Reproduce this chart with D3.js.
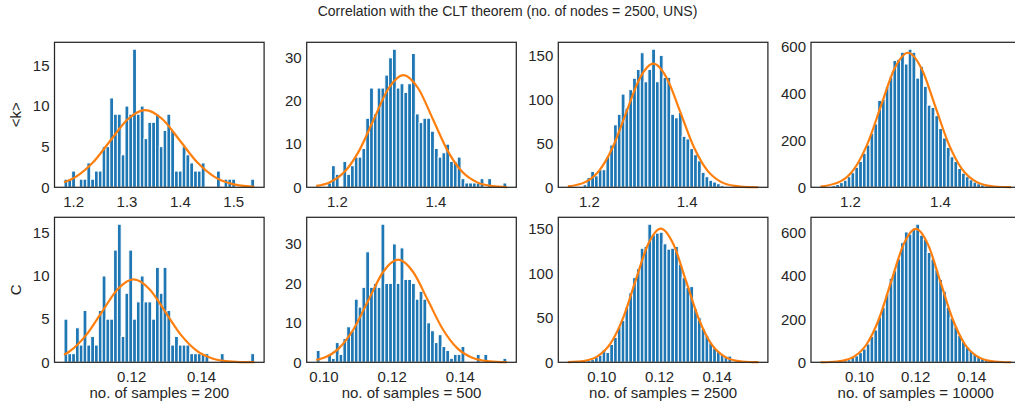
<!DOCTYPE html>
<html lang="en">
<head>
<meta charset="UTF-8">
<title>CLT histograms</title>
<script src="https://d3js.org/d3.v7.min.js"></script>
<style>
  body { margin: 0; background: #fff; }
  svg { display: block; }
  text { font-family: "Liberation Sans", Arial, sans-serif; fill: #262626; }
  .tick text { font-family: "Liberation Sans", Arial, sans-serif; font-size: 15px; fill: #262626; }
  .bar { fill: #1f77b4; stroke: #fff; stroke-width: 1; }
  .fit { fill: none; stroke: #ff7f0e; stroke-width: 2.2; }
  .frame { fill: none; stroke: #262626; stroke-width: 1.25; }
  .label { font-size: 15px; }
  .title { font-size: 14px; }
</style>
</head>
<body>
<svg width="1015" height="413"></svg>
<script>
const titleText = "Correlation with the CLT theorem (no. of nodes = 2500, UNS)";
const sampleSizes = [200, 500, 2500, 10000];
const rowLabels = ["<k>", "C"];

// histogram counts, 50 bins each
const kCounts200 = [1,1,2,0,1,1,3,1,2,2, 5,5,11,9,9,4,10,9,17,9, 10,6,8,8,9,5,7,9,7,2, 2,5,4,3,2,2,3,0,0,0, 2,0,1,1,1,0,0,0,0,1];
const kCounts500 = [0,0,0,1,5,3,0,6,3,5, 7,7,9,16,23,17,23,23,26,30, 32,23,24,22,24,31,17,15,16,16, 13,9,7,8,10,6,6,7,2,1, 1,1,1,2,0,2,0,0,0,1];
const kCounts2500 = [0,0,1,1,3,11,18,13,20,20, 35,48,71,83,106,90,111,124,134,153, 120,134,157,120,150,125,125,83,79,85, 58,55,44,37,30,17,12,8,6,4, 2,1,1,1,0,0,0,0,0,0];
const kCounts10000 = [1,2,4,7,12,20,30,45,62,85, 110,145,180,230,270,370,375,430,470,540, 545,575,525,588,575,465,515,430,350,340, 305,250,210,170,130,110,80,60,45,32, 22,15,10,6,4,2,1,1,0,0];
const cCounts200 = [5,1,1,4,2,6,2,3,2,6, 10,5,5,13,16,3,8,13,5,7, 10,7,7,5,11,8,11,6,2,3, 2,2,2,1,1,1,1,1,0,0, 0,1,0,0,0,0,0,0,0,1];
const cCounts500 = [3,0,0,2,1,5,2,6,9,8, 16,14,19,28,19,20,19,35,20,20, 30,20,29,21,21,20,16,18,16,10, 8,5,7,4,3,1,2,2,4,0, 0,0,2,0,2,0,0,0,0,1];
const cCounts2500 = [0,0,0,0,1,2,3,6,8,14, 11,20,28,40,47,62,78,95,105,128, 130,155,143,145,146,133,127,128,130,110, 95,84,85,60,50,38,30,22,16,12, 9,6,7,1,0,0,0,0,0,0];
const cCounts10000 = [0,0,0,1,2,4,8,12,22,30, 45,62,85,120,150,210,255,320,390,425, 480,555,605,595,620,641,590,570,510,480, 430,385,330,255,205,165,125,95,70,52, 38,27,18,12,7,4,2,1,0,0];

// first and last bin edge of each histogram
const kRanges = [[1.183, 1.540], [1.158, 1.545], [1.157, 1.547], [1.1345, 1.558]];
const cRanges = [[0.1008, 0.1553], [0.09788, 0.15376], [0.08838, 0.15445], [0.08626, 0.15417]];

// fitted normal curves
const kCurveX200 = [1.183, 1.205, 1.2375, 1.270, 1.3025, 1.335, 1.3675, 1.400, 1.4325, 1.465, 1.4975, 1.530, 1.540];
const kCurveY200 = [0.61, 1.29, 3.08, 5.76, 8.38, 9.5, 8.38, 5.76, 3.08, 1.29, 0.42, 0.11, 0.07];
const kCurveX500 = [1.158, 1.185, 1.215, 1.245, 1.275, 1.305, 1.335, 1.365, 1.395, 1.425, 1.455, 1.485, 1.515, 1.545];
const kCurveY500 = [0.34, 1.14, 3.52, 8.44, 15.77, 22.95, 26, 22.95, 15.77, 8.44, 3.52, 1.14, 0.29, 0.06];
const kCurveX2500 = [1.157, 1.1935, 1.2212, 1.2489, 1.2766, 1.3043, 1.332, 1.3597, 1.3874, 1.4151, 1.4428, 1.4705, 1.4982, 1.5259, 1.547];
const kCurveY2500 = [0.96, 6.17, 19.0, 45.6, 85.2, 124.0, 140.5, 124.0, 85.2, 45.6, 19.0, 6.17, 1.56, 0.31, 0.08];
const kCurveX10000 = [1.1345, 1.179, 1.209, 1.239, 1.269, 1.299, 1.329, 1.359, 1.389, 1.419, 1.449, 1.479, 1.509, 1.539, 1.558];
const kCurveY10000 = [3.0, 25.2, 77.5, 186.1, 347.5, 505.7, 573, 505.7, 347.5, 186.1, 77.5, 25.2, 6.4, 1.26, 0.39];
const cCurveX200 = [0.1008, 0.1025, 0.10705, 0.1116, 0.11615, 0.1207, 0.12525, 0.1298, 0.13435, 0.1389, 0.14345, 0.148, 0.15255, 0.1553];
const cCurveY200 = [0.87, 1.30, 3.12, 5.82, 8.47, 9.6, 8.47, 5.82, 3.12, 1.30, 0.42, 0.11, 0.02, 0.01];
const cCurveX500 = [0.09788, 0.10015, 0.1045, 0.10885, 0.1132, 0.11755, 0.1219, 0.12625, 0.1306, 0.13495, 0.1393, 0.14365, 0.148, 0.15235, 0.15376];
const cCurveY500 = [0.58, 1.14, 3.52, 8.44, 15.77, 22.95, 26, 22.95, 15.77, 8.44, 3.52, 1.14, 0.29, 0.06, 0.03];
const cCurveX2500 = [0.08838, 0.09423, 0.09863, 0.10302, 0.10742, 0.11181, 0.11621, 0.1206, 0.125, 0.12939, 0.13379, 0.13818, 0.14258, 0.14697, 0.15137, 0.15445];
const cCurveY2500 = [0.18, 1.67, 6.59, 20.3, 48.7, 91.0, 132.4, 150, 132.4, 91.0, 48.7, 20.3, 6.59, 1.67, 0.33, 0.09];
const cCurveX10000 = [0.08626, 0.08958, 0.09395, 0.09833, 0.1027, 0.10708, 0.11145, 0.11583, 0.1202, 0.12458, 0.12895, 0.13333, 0.1377, 0.14208, 0.14645, 0.15083, 0.15417];
const cCurveY10000 = [0.33, 1.36, 6.87, 27.2, 83.8, 201, 375.4, 546.3, 619, 546.3, 375.4, 201, 83.8, 27.2, 6.87, 1.36, 0.33];

// tick values
const kXTicks = [[1.2, 1.3, 1.4, 1.5], [1.2, 1.4], [1.2, 1.4], [1.2, 1.4]];
const cXTicks = [[0.12, 0.14], [0.10, 0.12, 0.14], [0.10, 0.12, 0.14], [0.10, 0.12, 0.14]];
const yTicksBySize = [[0, 5, 10, 15], [0, 10, 20, 30], [0, 50, 100, 150], [0, 200, 400, 600]];

// one row per quantity
const rows = [
  { counts: [kCounts200, kCounts500, kCounts2500, kCounts10000], ranges: kRanges,
    curveX: [kCurveX200, kCurveX500, kCurveX2500, kCurveX10000],
    curveY: [kCurveY200, kCurveY500, kCurveY2500, kCurveY10000],
    xTicks: kXTicks, fmt: ".1f" },
  { counts: [cCounts200, cCounts500, cCounts2500, cCounts10000], ranges: cRanges,
    curveX: [cCurveX200, cCurveX500, cCurveX2500, cCurveX10000],
    curveY: [cCurveY200, cCurveY500, cCurveY2500, cCurveY10000],
    xTicks: cXTicks, fmt: ".2f" }
];

const svg = d3.select("svg");
const colLeft = [54.5, 306.7, 558.3, 811],
      panelW = 209.6,
      rowTop = [42.3, 217.3],
      panelH = 145;

svg.append("text")
   .attr("class", "title")
   .attr("x", 507.5)
   .attr("y", 16)
   .attr("text-anchor", "middle")
   .text(titleText);

rows.forEach((row, r) => {
  sampleSizes.forEach((n, c) => {
    const counts = row.counts[c],
          [lo, hi] = row.ranges[c],
          pad = (hi - lo) * 0.05;

    const x = d3.scaleLinear().domain([lo - pad, hi + pad]).range([0, panelW]);
    const y = d3.scaleLinear().domain([0, d3.max(counts) * 1.05]).range([panelH, 0]);
    // bin index -> bin edge value
    const edge = d3.scaleLinear().domain([0, counts.length]).range([lo, hi]);

    const g = svg.append("g").attr("transform", `translate(${colLeft[c]},${rowTop[r]})`);

    g.selectAll("rect.bar")
     .data(counts)
     .join("rect")
     .attr("class", "bar")
     .attr("x", (d, i) => x(edge(i)))
     .attr("width", (d, i) => x(edge(i + 1)) - x(edge(i)))
     .attr("y", d => y(d))
     .attr("height", d => panelH - y(d));

    const line = d3.line()
                   .x(d => x(d[0]))
                   .y(d => y(d[1]))
                   .curve(d3.curveMonotoneX);
    g.append("path")
     .attr("class", "fit")
     .attr("d", line(d3.zip(row.curveX[c], row.curveY[c])));

    const xAxis = g.append("g")
      .attr("transform", `translate(0,${panelH})`)
      .call(d3.axisBottom(x).tickValues(row.xTicks[c]).tickFormat(d3.format(row.fmt))
              .tickSize(0).tickPadding(9));
    xAxis.select(".domain").remove();

    const yAxis = g.append("g")
      .call(d3.axisLeft(y).tickValues(yTicksBySize[c]).tickFormat(d3.format("d"))
              .tickSize(0).tickPadding(5));
    yAxis.select(".domain").remove();

    g.append("rect")
     .attr("class", "frame")
     .attr("width", panelW)
     .attr("height", panelH);

    if (r === rows.length - 1) {
      svg.append("text")
         .attr("class", "label")
         .attr("x", colLeft[c] + panelW / 2)
         .attr("y", 398)
         .attr("text-anchor", "middle")
         .text(`no. of samples = ${n}`);
    }
  });

  svg.append("text")
     .attr("class", "label")
     .attr("transform", `translate(21,${rowTop[r] + panelH / 2}) rotate(-90)`)
     .attr("text-anchor", "middle")
     .text(rowLabels[r]);
});
</script>
</body>
</html>
